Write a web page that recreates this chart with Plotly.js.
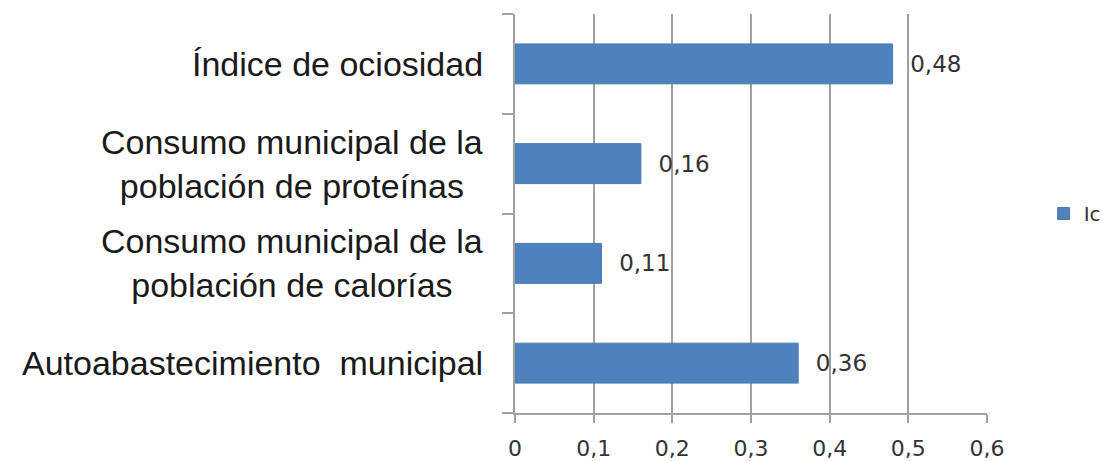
<!DOCTYPE html>
<html>
<head>
<meta charset="utf-8">
<script src="https://cdn.plot.ly/plotly-3.0.1.min.js"></script>
<style>html,body{margin:0;padding:0;background:#fff;}#chart{width:1110px;height:461px;}</style>
</head>
<body>
<div id="chart"></div>
<script>
const categories = [
  "Autoabastecimiento  municipal",
  "Consumo municipal de la<br>población de calorías",
  "Consumo municipal de la<br>población de proteínas",
  "Índice de ociosidad"
];
const values = [0.36, 0.11, 0.16, 0.48];
const seriesName = "Ic";
const xTicks = [0, 0.1, 0.2, 0.3, 0.4, 0.5, 0.6];

const trace = {
  type: 'bar',
  orientation: 'h',
  x: values,
  y: categories,
  name: seriesName,
  marker: {color: '#4f81bd', line: {color: '#4a7ab5', width: 1}},
  texttemplate: '  %{x:.2f}',
  textposition: 'outside',
  textfont: {family: 'DejaVu Sans', size: 23, color: '#333'},
  cliponaxis: false,
  showlegend: true
};

const annotations = categories.map(c => ({
  xref: 'paper', yref: 'y', x: -0.063, y: c, xanchor: 'right', yanchor: 'middle',
  text: c, align: 'center', showarrow: false,
  font: {family: 'Liberation Sans, Arial', size: 34, color: '#1a1a1a'}
}));

const layout = {
  width: 1110, height: 461,
  margin: {l: 515, r: 123, t: 14, b: 48, autoexpand: false},
  paper_bgcolor: '#fff', plot_bgcolor: '#fff',
  separators: ',.',
  bargap: 0.6,
  xaxis: {
    range: [0, 0.6], tickvals: xTicks, tickformat: '.1~f',
    showgrid: true, gridcolor: '#a0a0a0', gridwidth: 2,
    showline: true, linecolor: '#a0a0a0', linewidth: 2,
    ticks: 'outside', ticklen: 8, tickcolor: '#a0a0a0', tickwidth: 2,
    ticklabelstandoff: 7,
    zeroline: false,
    tickfont: {family: 'DejaVu Sans', size: 22, color: '#333'},
    fixedrange: true
  },
  yaxis: {
    type: 'category', categoryorder: 'array', categoryarray: categories,
    showticklabels: false,
    showline: true, linecolor: '#a0a0a0', linewidth: 2,
    ticks: 'outside', ticklen: 11, tickcolor: '#a0a0a0', tickwidth: 2,
    tickson: 'boundaries', showgrid: false, zeroline: false,
    fixedrange: true
  },
  legend: {
    x: 1.12, y: 0.5, xanchor: 'left', yanchor: 'middle',
    font: {family: 'DejaVu Sans', size: 20, color: '#333'},
    itemwidth: 30, bgcolor: 'rgba(0,0,0,0)'
  },
  annotations: annotations
};

Plotly.newPlot('chart', [trace], layout, {displayModeBar: false, staticPlot: true});
</script>
</body>
</html>
